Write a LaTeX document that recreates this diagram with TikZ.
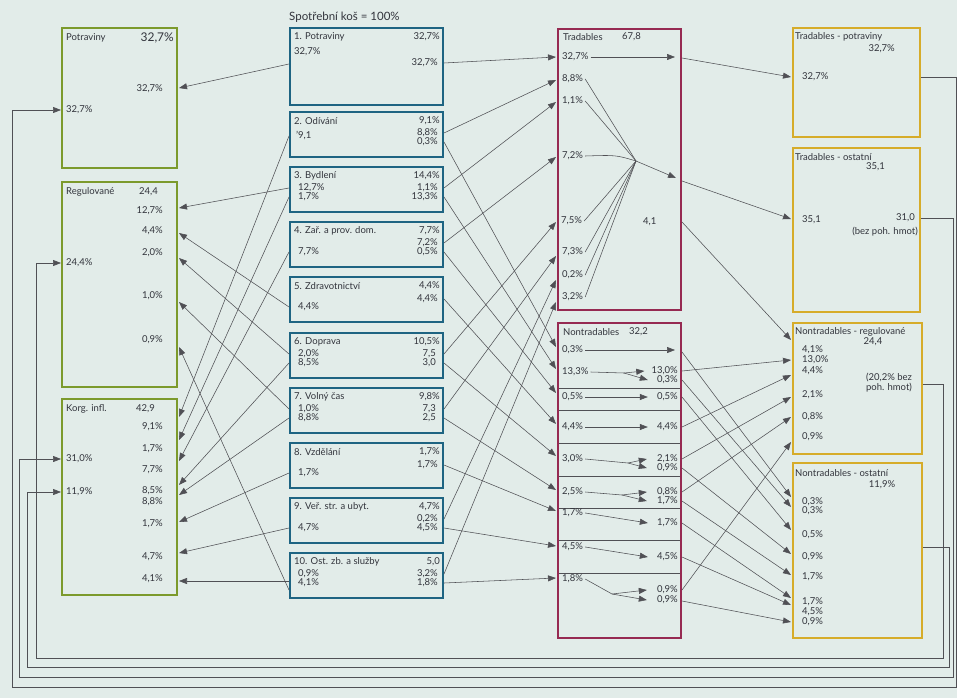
\documentclass[tikz,border=0pt]{standalone}
\usepackage{fontspec}
\setmainfont{Lato}
\usetikzlibrary{arrows.meta}
\definecolor{bgc}{RGB}{226,236,233}
\definecolor{grn}{RGB}{124,154,44}
\definecolor{blu}{RGB}{30,100,130}
\definecolor{mar}{RGB}{150,42,82}
\definecolor{yel}{RGB}{214,172,42}
\definecolor{lnc}{RGB}{80,80,85}
\definecolor{txc}{RGB}{50,52,60}
\begin{document}
\begin{tikzpicture}[x=1pt,y=-1pt,
  lab/.style={font=\fontsize{9.5}{10}\selectfont, text=txc, inner sep=0pt},
  L/.style={lab, anchor=west},
  R/.style={lab, anchor=east},
  C/.style={lab, anchor=center},
  big/.style={font=\fontsize{12}{13}\selectfont},
  ln/.style={draw=lnc, line width=0.55pt},
  ar/.style={ln, -{Triangle[length=8pt,width=6pt]}},
  gb/.style={draw=grn, line width=1.8pt},
  bb/.style={draw=blu, line width=1.8pt},
  rb/.style={draw=mar, line width=1.4pt},
  yb/.style={draw=yel, line width=1.8pt}]
\fill[bgc] (0,0) rectangle (957,698);
\useasboundingbox (0,0) rectangle (957,698);

% ---------- boxes ----------
\draw[gb] (62,28) rectangle (177,168);
\draw[gb] (62,182) rectangle (177,387);
\draw[gb] (62,399) rectangle (177,595);

\draw[bb] (290,28) rectangle (443,105);
\foreach \t in {112,167,222,277,333,388,443,498,553}
  \draw[bb] (290,\t) rectangle (443,\t+45);

\draw[rb] (558,29) rectangle (681,310);
\draw[rb] (558,323) rectangle (681,638);
\foreach \s in {388,410,443,476,508,540,573}
  \draw[draw=lnc, line width=0.5pt] (559,\s) -- (680,\s);

\draw[yb] (793,28) rectangle (920,137);
\draw[yb] (793,148) rectangle (920,312);
\draw[yb] (793,323) rectangle (922,454);
\draw[yb] (793,463) rectangle (922,638);

% ---------- green texts ----------
\node[L] (gPt) at (66,38) {Potraviny};
\node[R,big] (gPv) at (174,38) {32,7\%};
\node[R] (gPr) at (163,89) {32,7\%};
\node[L] (gPl) at (66,110) {32,7\%};

\node[L] (gRt) at (66,192) {Regulované};
\node[L] (gRv) at (139,192) {24,4};
\node[R] (gR1) at (163,211) {12,7\%};
\node[R] (gR2) at (163,231) {4,4\%};
\node[R] (gR3) at (163,253) {2,0\%};
\node[R] (gR4) at (163,296) {1,0\%};
\node[R] (gR5) at (163,340) {0,9\%};
\node[L] (gRl) at (66,263) {24,4\%};

\node[L] (gKt) at (66,409) {Korg. infl.};
\node[L] (gKv) at (136,409) {42,9};
\node[R] (gK1) at (163,427) {9,1\%};
\node[R] (gK2) at (163,449) {1,7\%};
\node[R] (gK3) at (163,470) {7,7\%};
\node[R] (gK4) at (163,491) {8,5\%};
\node[R] (gK5) at (163,502) {8,8\%};
\node[R] (gK6) at (163,524) {1,7\%};
\node[R] (gK7) at (163,557) {4,7\%};
\node[R] (gK8) at (163,579) {4,1\%};
\node[L] (gKl1) at (66,459) {31,0\%};
\node[L] (gKl2) at (66,492) {11,9\%};

% ---------- blue texts ----------
\node[L,font=\fontsize{11.5}{12}\selectfont] (bHead) at (289,17) {Spotřební koš = 100\%};
\node[L] (b1t) at (294,37) {1. Potraviny};
\node[R] (b1v) at (440,37) {32,7\%};
\node[L] (b1l) at (294,52) {32,7\%};
\node[R] (b1r) at (438,63) {32,7\%};

\node[L] (b2t) at (294,121) {2. Odívání};
\node[R] (b2v) at (440,121) {9,1\%};
\node[L] (b2l) at (296,136) {'9,1};
\node[R] (b2ra) at (438,133) {8,8\%};
\node[R] (b2rb) at (438,142) {0,3\%};

\node[L] (b3t) at (294,176) {3. Bydlení};
\node[R] (b3v) at (440,176) {14,4\%};
\node[L] (b3la) at (298,188) {12,7\%};
\node[L] (b3lb) at (298,197) {1,7\%};
\node[R] (b3ra) at (438,188) {1,1\%};
\node[R] (b3rb) at (438,197) {13,3\%};

\node[L] (b4t) at (294,231) {4. Zař. a prov. dom.};
\node[R] (b4v) at (440,231) {7,7\%};
\node[L] (b4l) at (298,252) {7,7\%};
\node[R] (b4ra) at (438,243) {7,2\%};
\node[R] (b4rb) at (438,252) {0,5\%};

\node[L] (b5t) at (294,286) {5. Zdravotnictví};
\node[R] (b5v) at (440,286) {4,4\%};
\node[L] (b5l) at (298,307) {4,4\%};
\node[R] (b5r) at (438,299) {4,4\%};

\node[L] (b6t) at (294,342) {6. Doprava};
\node[R] (b6v) at (440,342) {10,5\%};
\node[L] (b6la) at (298,354) {2,0\%};
\node[L] (b6lb) at (298,363) {8,5\%};
\node[R] (b6ra) at (436,354) {7,5};
\node[R] (b6rb) at (436,363) {3,0};

\node[L] (b7t) at (294,397) {7. Volný čas};
\node[R] (b7v) at (440,397) {9,8\%};
\node[L] (b7la) at (298,409) {1,0\%};
\node[L] (b7lb) at (298,418) {8,8\%};
\node[R] (b7ra) at (436,409) {7,3};
\node[R] (b7rb) at (436,418) {2,5};

\node[L] (b8t) at (294,452) {8. Vzdělání};
\node[R] (b8v) at (440,452) {1,7\%};
\node[L] (b8l) at (298,473) {1,7\%};
\node[R] (b8r) at (438,465) {1,7\%};

\node[L] (b9t) at (294,507) {9. Veř. str. a ubyt.};
\node[R] (b9v) at (440,507) {4,7\%};
\node[L] (b9l) at (298,528) {4,7\%};
\node[R] (b9ra) at (438,519) {0,2\%};
\node[R] (b9rb) at (438,528) {4,5\%};

\node[L] (b10t) at (294,562) {10. Ost. zb. a služby};
\node[R] (b10v) at (440,562) {5,0};
\node[L] (b10la) at (298,574) {0,9\%};
\node[L] (b10lb) at (298,583) {4,1\%};
\node[R] (b10ra) at (438,574) {3,2\%};
\node[R] (b10rb) at (438,583) {1,8\%};

% ---------- red texts ----------
\node[L] (tTit) at (563,37) {Tradables};
\node[L] (tVal) at (622,37) {67,8};
\node[L] (tl1) at (562,57) {32,7\%};
\node[L] (tl2) at (562,79) {8,8\%};
\node[L] (tl3) at (562,101) {1,1\%};
\node[L] (tl4) at (562,156) {7,2\%};
\node[L] (tl5) at (561,221) {7,5\%};
\node[L] (tl6) at (562,252) {7,3\%};
\node[L] (tl7) at (562,275) {0,2\%};
\node[L] (tl8) at (562,297) {3,2\%};
\node[L] (tv41) at (643,222) {4,1};

\node[L] (nTit) at (563,332) {Nontradables};
\node[L] (nVal) at (629,332) {32,2};
\node[L] (nl1) at (562,350) {0,3\%};
\node[L] (nl2) at (562,372) {13,3\%};
\node[L] (nl3) at (562,397) {0,5\%};
\node[L] (nl4) at (562,427) {4,4\%};
\node[L] (nl5) at (562,459) {3,0\%};
\node[L] (nl6) at (562,492) {2,5\%};
\node[L] (nl7) at (562,513) {1,7\%};
\node[L] (nl8) at (562,547) {4,5\%};
\node[L] (nl9) at (562,579) {1,8\%};
\node[R] (nr2a) at (678,371) {13,0\%};
\node[R] (nr2b) at (678,380) {0,3\%};
\node[R] (nr3) at (678,397) {0,5\%};
\node[R] (nr4) at (678,427) {4,4\%};
\node[R] (nr5a) at (678,459) {2,1\%};
\node[R] (nr5b) at (678,468) {0,9\%};
\node[R] (nr6a) at (678,492) {0,8\%};
\node[R] (nr6b) at (678,501) {1,7\%};
\node[R] (nr7) at (678,523) {1,7\%};
\node[R] (nr8) at (678,557) {4,5\%};
\node[R] (nr9a) at (678,590) {0,9\%};
\node[R] (nr9b) at (678,600) {0,9\%};

% ---------- yellow texts ----------
\node[L] (yPt) at (795,37) {Tradables - potraviny};
\node[R] (yPv) at (895,49) {32,7\%};
\node[L] (yPl) at (802,77) {32,7\%};

\node[L] (yOt) at (795,157) {Tradables - ostatní};
\node[R] (yOv) at (885,167) {35,1};
\node[L] (yOl) at (802,220) {35,1};
\node[R] (yOr) at (915,218) {31,0};
\node[R] (yOr2) at (918,232) {(bez poh. hmot)};

\node[L] (yRt) at (795,332) {Nontradables - regulované};
\node[C] (yRv) at (873,342) {24,4};
\node[lab, align=center] (yRn) at (889,383) {(20,2\% bez\\poh. hmot)};
\node[L] (yR1) at (802,350) {4,1\%};
\node[L] (yR2) at (802,360) {13,0\%};
\node[L] (yR3) at (802,371) {4,4\%};
\node[L] (yR4) at (802,395) {2,1\%};
\node[L] (yR5) at (802,417) {0,8\%};
\node[L] (yR6) at (802,437) {0,9\%};

\node[L] (ySt) at (795,473) {Nontradables - ostatní};
\node[C] (ySv) at (882,485) {11,9\%};
\node[L] (yS1) at (802,502) {0,3\%};
\node[L] (yS2) at (802,511) {0,3\%};
\node[L] (yS3) at (802,535) {0,5\%};
\node[L] (yS4) at (802,557) {0,9\%};
\node[L] (yS5) at (802,577) {1,7\%};
\node[L] (yS6) at (802,602) {1,7\%};
\node[L] (yS7) at (802,612) {4,5\%};
\node[L] (yS8) at (802,622) {0,9\%};

% ---------- coordinates ----------
\coordinate (aP) at (179,88);
\coordinate (aR1) at (179,208); \coordinate (aR2) at (179,233);
\coordinate (aR3) at (179,258); \coordinate (aR4) at (179,302);
\coordinate (aR5) at (179,347);
\coordinate (aK1) at (179,417); \coordinate (aK2) at (179,440);
\coordinate (aK3) at (179,461); \coordinate (aK4) at (179,485);
\coordinate (aK5) at (179,495); \coordinate (aK6) at (179,522);
\coordinate (aK7) at (179,553); \coordinate (aK8) at (179,581);
\coordinate (bL1) at (289,64);  \coordinate (bL2) at (289,136);
\coordinate (bL3a) at (289,188); \coordinate (bL3b) at (289,197);
\coordinate (bL4) at (289,252); \coordinate (bL5) at (289,307);
\coordinate (bL6a) at (289,354); \coordinate (bL6b) at (289,363);
\coordinate (bL7a) at (289,409); \coordinate (bL7b) at (289,418);
\coordinate (bL8) at (289,473); \coordinate (bL9) at (289,528);
\coordinate (bL10a) at (289,590); \coordinate (bL10b) at (289,581);
\coordinate (bR1) at (444,63);
\coordinate (bR2a) at (444,133); \coordinate (bR2b) at (444,142);
\coordinate (bR3a) at (444,188); \coordinate (bR3b) at (444,197);
\coordinate (bR4a) at (444,243); \coordinate (bR4b) at (444,252);
\coordinate (bR5) at (444,299);
\coordinate (bR6a) at (444,354); \coordinate (bR6b) at (444,363);
\coordinate (bR7a) at (444,409); \coordinate (bR7b) at (444,418);
\coordinate (bR8) at (444,465);
\coordinate (bR9a) at (444,519); \coordinate (bR9b) at (444,528);
\coordinate (bR10a) at (444,574); \coordinate (bR10b) at (444,583);
\coordinate (rT1) at (556,57);  \coordinate (rT2) at (556,80);
\coordinate (rT3) at (556,102); \coordinate (rT4) at (556,157);
\coordinate (rT5) at (556,222); \coordinate (rT6) at (556,256);
\coordinate (rT7) at (556,280); \coordinate (rT8) at (556,302);
\coordinate (rN1) at (556,347); \coordinate (rN2) at (556,369);
\coordinate (rN3) at (556,393); \coordinate (rN4) at (556,424);
\coordinate (rN5) at (556,456); \coordinate (rN6) at (556,490);
\coordinate (rN7) at (556,511); \coordinate (rN8) at (556,546);
\coordinate (rN9) at (556,578);
\coordinate (iT1) at (675,57);
\coordinate (conv) at (636,161);
\coordinate (iT2) at (676,178);
\coordinate (iN1) at (675,350);
\coordinate (sp2) at (624,373);
\coordinate (sp5) at (628,463);
\coordinate (sp6) at (622,495);
\coordinate (sp9) at (612,594);
\coordinate (eT1) at (682,58);  \coordinate (eT2) at (682,181);
\coordinate (eT3) at (682,222);
\coordinate (eN1) at (682,352); \coordinate (eN2) at (682,371);
\coordinate (eN3) at (682,380); \coordinate (eN4) at (682,397);
\coordinate (eN5) at (682,427); \coordinate (eN6) at (682,459);
\coordinate (eN7) at (682,468); \coordinate (eN8) at (682,492);
\coordinate (eN9) at (682,501); \coordinate (eN10) at (682,523);
\coordinate (eN11) at (682,557); \coordinate (eN12) at (682,590);
\coordinate (eN13) at (682,601);
\coordinate (zP) at (791,77);  \coordinate (zO) at (791,219);
\coordinate (zR1) at (791,340); \coordinate (zR2) at (791,360);
\coordinate (zR3) at (791,375); \coordinate (zR4) at (791,397);
\coordinate (zR5) at (791,417); \coordinate (zR6) at (791,442);
\coordinate (zS1) at (791,497); \coordinate (zS2) at (791,507);
\coordinate (zS3) at (791,530); \coordinate (zS4) at (791,554);
\coordinate (zS5) at (791,575); \coordinate (zS6) at (791,598);
\coordinate (zS7) at (791,605); \coordinate (zS8) at (791,622);
\coordinate (oP) at (921,77);  \coordinate (oO) at (921,218);
\coordinate (oR) at (923,384); \coordinate (oS) at (923,547);
\coordinate (gInP) at (61,110); \coordinate (gInO) at (61,459);
\coordinate (gInS) at (61,492); \coordinate (gInR) at (61,263);

% ---------- blue -> green ----------
\draw[ar] (bL1) -- (aP);
\draw[ar] (bL2) -- (aK1);
\draw[ar] (bL3a) -- (aR1);
\draw[ar] (bL3b) -- (aK2);
\draw[ar] (bL4) -- (aK3);
\draw[ar] (bL5) -- (aR2);
\draw[ar] (bL6a) -- (aR3);
\draw[ar] (bL6b) -- (aK4);
\draw[ar] (bL7a) -- (aR4);
\draw[ar] (bL7b) -- (aK5);
\draw[ar] (bL8) -- (aK6);
\draw[ar] (bL9) -- (aK7);
\draw[ar] (bL10a) -- (aR5);
\draw[ar] (bL10b) -- (aK8);

% ---------- blue -> red ----------
\draw[ar] (bR1) -- (rT1);
\draw[ar] (bR2a) -- (rT2);
\draw[ar] (bR3a) -- (rT3);
\draw[ar] (bR4a) -- (rT4);
\draw[ar] (bR6a) -- (rT5);
\draw[ar] (bR7a) -- (rT6);
\draw[ar] (bR9a) -- (rT7);
\draw[ar] (bR10a) -- (rT8);
\draw[ar] (bR2b) -- (rN1);
\draw[ar] (bR3b) -- (rN2);
\draw[ar] (bR4b) -- (rN3);
\draw[ar] (bR5) -- (rN4);
\draw[ar] (bR6b) -- (rN5);
\draw[ar] (bR7b) -- (rN6);
\draw[ar] (bR8) -- (rN7);
\draw[ar] (bR9b) -- (rN8);
\draw[ar] (bR10b) -- (rN9);

% ---------- inside Tradables ----------
\draw[ar] ([xshift=2pt]tl1.east) -- (iT1);
\draw[ln] ([xshift=2pt]tl2.east) -- (conv);
\draw[ln] ([xshift=2pt]tl3.east) -- (conv);
\draw[ln] ([xshift=2pt]tl4.east) .. controls (616,155) .. (conv);
\draw[ln] ([xshift=2pt]tl5.east) -- (conv);
\draw[ln] ([xshift=2pt]tl6.east) -- (conv);
\draw[ln] ([xshift=2pt]tl7.east) -- (conv);
\draw[ln] ([xshift=2pt]tl8.east) -- (conv);
\draw[ar] (conv) -- (iT2);

% ---------- inside Nontradables ----------
\draw[ar] ([xshift=2pt]nl1.east) -- (iN1);
\draw[ln] ([xshift=2pt]nl2.east) -- (sp2);
\draw[ar] (sp2) -- ([xshift=-7pt]nr2a.west);
\draw[ar] (sp2) -- ([xshift=-9pt]nr2b.west);
\draw[ar] ([xshift=2pt]nl3.east) -- ([xshift=-9pt]nr3.west);
\draw[ar] ([xshift=2pt]nl4.east) -- ([xshift=-9pt]nr4.west);
\draw[ln] ([xshift=2pt]nl5.east) -- (sp5);
\draw[ar] (sp5) -- ([xshift=-10pt]nr5a.west);
\draw[ar] (sp5) -- ([xshift=-10pt]nr5b.west);
\draw[ln] ([xshift=2pt]nl6.east) -- (sp6);
\draw[ar] (sp6) -- ([xshift=-10pt]nr6a.west);
\draw[ar] (sp6) -- ([xshift=-10pt]nr6b.west);
\draw[ar] ([xshift=2pt]nl7.east) -- ([xshift=-9pt]nr7.west);
\draw[ar] ([xshift=2pt]nl8.east) -- ([xshift=-9pt]nr8.west);
\draw[ln] ([xshift=2pt]nl9.east) -- (sp9);
\draw[ar] (sp9) -- ([xshift=-10pt]nr9a.west);
\draw[ar] (sp9) -- ([xshift=-10pt]nr9b.west);

% ---------- red -> yellow ----------
\draw[ar] (eT1) -- (zP);
\draw[ar] (eT2) -- (zO);
\draw[ar] (eT3) -- (zR1);
\draw[ar] (eN2) -- (zR2);
\draw[ar] (eN5) -- (zR3);
\draw[ar] (eN6) -- (zR4);
\draw[ar] (eN8) -- (zR5);
\draw[ar] (eN12) -- (zR6);
\draw[ar] (eN1) -- (zS1);
\draw[ar] (eN3) -- (zS2);
\draw[ar] (eN4) -- (zS3);
\draw[ar] (eN7) -- (zS4);
\draw[ar] (eN9) -- (zS5);
\draw[ar] (eN10) -- (zS6);
\draw[ar] (eN11) -- (zS7);
\draw[ar] (eN13) -- (zS8);

% ---------- feedback loops ----------
\draw[ar] (oP) -- (956,77) -- (956,687) -- (12,687) -- (12,110) -- (gInP);
\draw[ar] (oO) -- (953,218) -- (953,677) -- (19,677) -- (19,459) -- (gInO);
\draw[ar] (oS) -- (949,547) -- (949,667) -- (27,667) -- (27,492) -- (gInS);
\draw[ar] (oR) -- (943,384) -- (943,658) -- (36,658) -- (36,263) -- (gInR);
\end{tikzpicture}
\end{document}
